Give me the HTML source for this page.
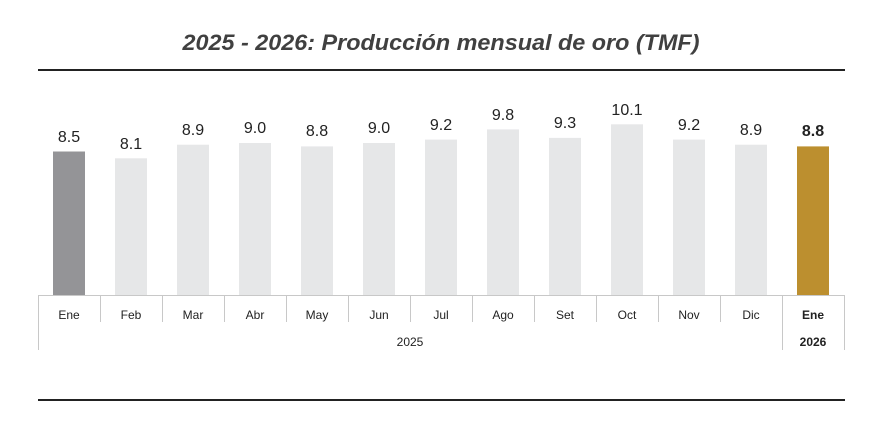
<!DOCTYPE html>
<html><head><meta charset="utf-8"><style>
html,body{margin:0;padding:0;background:#fff;}
svg{display:block;font-family:"Liberation Sans",Arial,sans-serif;}
</style></head><body>
<svg width="873" height="430" viewBox="0 0 873 430" xmlns="http://www.w3.org/2000/svg">
<text x="441" y="50" text-anchor="middle" font-size="22" font-weight="bold" font-style="italic" fill="#404040" textLength="517" lengthAdjust="spacingAndGlyphs">2025 - 2026: Producción mensual de oro  (TMF)</text>
<line x1="38" y1="70" x2="845" y2="70" stroke="#222" stroke-width="2"/>
<line x1="38" y1="400" x2="845" y2="400" stroke="#222" stroke-width="2"/>
<g>
<rect x="53" y="151.5" width="32" height="144" fill="#949497"/>
<rect x="115" y="158.3" width="32" height="137" fill="#e6e7e8"/>
<rect x="177" y="144.7" width="32" height="151" fill="#e6e7e8"/>
<rect x="239" y="143" width="32" height="153" fill="#e6e7e8"/>
<rect x="301" y="146.4" width="32" height="149" fill="#e6e7e8"/>
<rect x="363" y="143" width="32" height="153" fill="#e6e7e8"/>
<rect x="425" y="139.6" width="32" height="156" fill="#e6e7e8"/>
<rect x="487" y="129.4" width="32" height="166" fill="#e6e7e8"/>
<rect x="549" y="137.9" width="32" height="158" fill="#e6e7e8"/>
<rect x="611" y="124.3" width="32" height="171" fill="#e6e7e8"/>
<rect x="673" y="139.6" width="32" height="156" fill="#e6e7e8"/>
<rect x="735" y="144.7" width="32" height="151" fill="#e6e7e8"/>
<rect x="797" y="146.4" width="32" height="149" fill="#bc8f2f"/>
</g>
<g font-size="16" fill="#222" text-anchor="middle">
<text x="69" y="142">8.5</text>
<text x="131" y="149">8.1</text>
<text x="193" y="135">8.9</text>
<text x="255" y="133">9.0</text>
<text x="317" y="136">8.8</text>
<text x="379" y="133">9.0</text>
<text x="441" y="130">9.2</text>
<text x="503" y="120">9.8</text>
<text x="565" y="128">9.3</text>
<text x="627" y="115">10.1</text>
<text x="689" y="130">9.2</text>
<text x="751" y="135">8.9</text>
<text x="813" y="136" font-weight="bold">8.8</text>
</g>
<line x1="38" y1="295.5" x2="845" y2="295.5" stroke="#c8c8c8" stroke-width="1"/>
<g stroke="#c8c8c8" stroke-width="1">
<line x1="38.5" y1="295" x2="38.5" y2="350"/>
<line x1="100.5" y1="295" x2="100.5" y2="322"/>
<line x1="162.5" y1="295" x2="162.5" y2="322"/>
<line x1="224.5" y1="295" x2="224.5" y2="322"/>
<line x1="286.5" y1="295" x2="286.5" y2="322"/>
<line x1="348.5" y1="295" x2="348.5" y2="322"/>
<line x1="410.5" y1="295" x2="410.5" y2="322"/>
<line x1="472.5" y1="295" x2="472.5" y2="322"/>
<line x1="534.5" y1="295" x2="534.5" y2="322"/>
<line x1="596.5" y1="295" x2="596.5" y2="322"/>
<line x1="658.5" y1="295" x2="658.5" y2="322"/>
<line x1="720.5" y1="295" x2="720.5" y2="322"/>
<line x1="782.5" y1="295" x2="782.5" y2="350"/>
<line x1="844.5" y1="295" x2="844.5" y2="350"/>
</g>
<g font-size="12" fill="#222" text-anchor="middle">
<text x="69" y="319">Ene</text>
<text x="131" y="319">Feb</text>
<text x="193" y="319">Mar</text>
<text x="255" y="319">Abr</text>
<text x="317" y="319">May</text>
<text x="379" y="319">Jun</text>
<text x="441" y="319">Jul</text>
<text x="503" y="319">Ago</text>
<text x="565" y="319">Set</text>
<text x="627" y="319">Oct</text>
<text x="689" y="319">Nov</text>
<text x="751" y="319">Dic</text>
<text x="813" y="319" font-weight="bold">Ene</text>
<text x="410" y="346">2025</text>
<text x="813" y="346" font-weight="bold">2026</text>
</g>
</svg>
</body></html>
